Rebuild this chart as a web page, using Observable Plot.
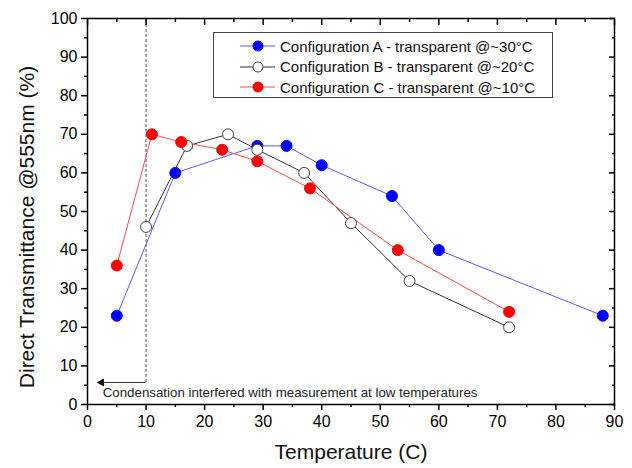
<!DOCTYPE html>
<html><head><meta charset="utf-8">
<script src="https://cdn.jsdelivr.net/npm/d3@7"></script>
<script src="https://cdn.jsdelivr.net/npm/@observablehq/plot@0.6"></script>
<style>
body{margin:0;background:#fff;font-family:"Liberation Sans",Arial,sans-serif;}
#wrap{position:relative;width:632px;height:468px;}
#legend{position:absolute;left:213px;top:32px;width:340px;height:66px;border:1px solid #444;background:#fff;box-sizing:border-box;font-size:15px;color:#111;}
.row{position:absolute;left:0;height:20px;display:flex;align-items:center;white-space:nowrap;}
.row svg{margin-left:26px;margin-right:5px;}
</style></head>
<body><div id="wrap"><div id="legend"></div></div>
<script>
const tempA = [5, 15, 29, 34, 40, 52, 60, 88];
const valA  = [23, 60, 67, 67, 62, 54, 40, 23];
const tempB = [10, 17, 24, 29, 37, 45, 55, 72];
const valB  = [46, 67, 70, 66, 60, 47, 32, 20];
const tempC = [5, 11, 16, 23, 29, 38, 53, 72];
const valC  = [36, 70, 68, 66, 63, 56, 40, 24];
const seriesNames = ["Configuration A - transparent @~30°C","Configuration B - transparent @~20°C","Configuration C - transparent @~10°C"];
const xMajor = [0,10,20,30,40,50,60,70,80,90];
const xMinor = [5,15,25,35,45,55,65,75,85];
const yMajor = [0,10,20,30,40,50,60,70,80,90,100];
const yMinor = [5,15,25,35,45,55,65,75,85,95];
const condX = 10, condArrowEnd = 1.7, condY = 5.7;
const condText = "Condensation interfered with measurement at low temperatures";

const A = tempA.map((t,i)=>({t, v:valA[i]}));
const B = tempB.map((t,i)=>({t, v:valB[i]}));
const C = tempC.map((t,i)=>({t, v:valC[i]}));

const styles = [
  {line:"#5a5aff", fill:"#0000ff", stroke:"#0000ff"},
  {line:"#333333", fill:"#ffffff", stroke:"#444444"},
  {line:"#ff4a4a", fill:"#ff0000", stroke:"#ff0000"}
];
const data = [A,B,C];

const marks = [];
marks.push(Plot.ruleX([condX], {y1: condY, y2: 100, stroke:"#555", strokeDasharray:"3,2", strokeWidth:1}));
marks.push(Plot.ruleY([condY], {x1: condArrowEnd+1.2, x2: condX, stroke:"#333", strokeWidth:1}));
marks.push(Plot.dot([{x:condArrowEnd+0.7, y:condY}], {x:"x", y:"y", symbol:"triangle", r:3, rotate:-90, fill:"#000", stroke:"none"}));
marks.push(Plot.text([condText], {x: 2.6, y: 3.0, text: d=>d, textAnchor:"start", fontSize:13.3, fill:"#222"}));
data.forEach((d,i)=>{
  marks.push(Plot.line(d, {x:"t", y:"v", stroke:styles[i].line, strokeWidth:1}));
});
data.forEach((d,i)=>{
  marks.push(Plot.dot(d, {x:"t", y:"v", r:5.5, fill:styles[i].fill, stroke:styles[i].stroke, strokeWidth:1}));
});
marks.push(Plot.axisX(xMajor, {anchor:"bottom", tickSize:6, tickPadding:5, fontSize:16, tickFormat:d=>d, strokeWidth:1.5, label:null}));
marks.push(Plot.axisX(xMinor, {anchor:"bottom", tickSize:3, text:null, strokeWidth:1.5, label:null}));
marks.push(Plot.axisX(xMajor, {anchor:"top", tickSize:-6, text:null, strokeWidth:1.5, label:null}));
marks.push(Plot.axisX(xMinor, {anchor:"top", tickSize:-3, text:null, strokeWidth:1.5, label:null}));
marks.push(Plot.axisY(yMajor, {anchor:"left", tickSize:6, tickPadding:4, fontSize:16, tickFormat:d=>d, strokeWidth:1.5, label:null}));
marks.push(Plot.axisY(yMinor, {anchor:"left", tickSize:3, text:null, strokeWidth:1.5, label:null}));
marks.push(Plot.axisY(yMajor, {anchor:"right", tickSize:-6, text:null, strokeWidth:1.5, label:null}));
marks.push(Plot.axisY(yMinor, {anchor:"right", tickSize:-3, text:null, strokeWidth:1.5, label:null}));
marks.push(Plot.frame({stroke:"#000", strokeWidth:1.5}));

const chart = Plot.plot({
  width:632, height:468,
  marginLeft:87, marginRight:18, marginTop:18, marginBottom:64,
  style:{fontFamily:"Liberation Sans, Arial, sans-serif", color:"#000", background:"#fff"},
  x:{domain:[0,90], label:null},
  y:{domain:[0,100], label:null},
  marks
});
const svg = d3.select(chart);
svg.append("text").attr("x",351).attr("y",459).attr("text-anchor","middle")
  .attr("font-size",21).attr("fill","#111").text("Temperature (C)");
svg.append("text").attr("transform","translate(34,227) rotate(-90)").attr("text-anchor","middle")
  .attr("font-size",21).attr("fill","#111").text("Direct Transmittance @555nm (%)");
document.getElementById("wrap").prepend(chart);

const leg = document.getElementById("legend");
seriesNames.forEach((n,i)=>{
  const row = document.createElement("div");
  row.className="row"; row.style.top = (3 + i*20.5)+"px";
  row.innerHTML = `<svg width="35" height="12"><line x1="0" x2="35" y1="6" y2="6" stroke="${styles[i].line}" stroke-width="1"/><circle cx="18" cy="6" r="5" fill="${styles[i].fill}" stroke="${styles[i].stroke}"/></svg><span>${n}</span>`;
  leg.appendChild(row);
});
</script></body></html>
